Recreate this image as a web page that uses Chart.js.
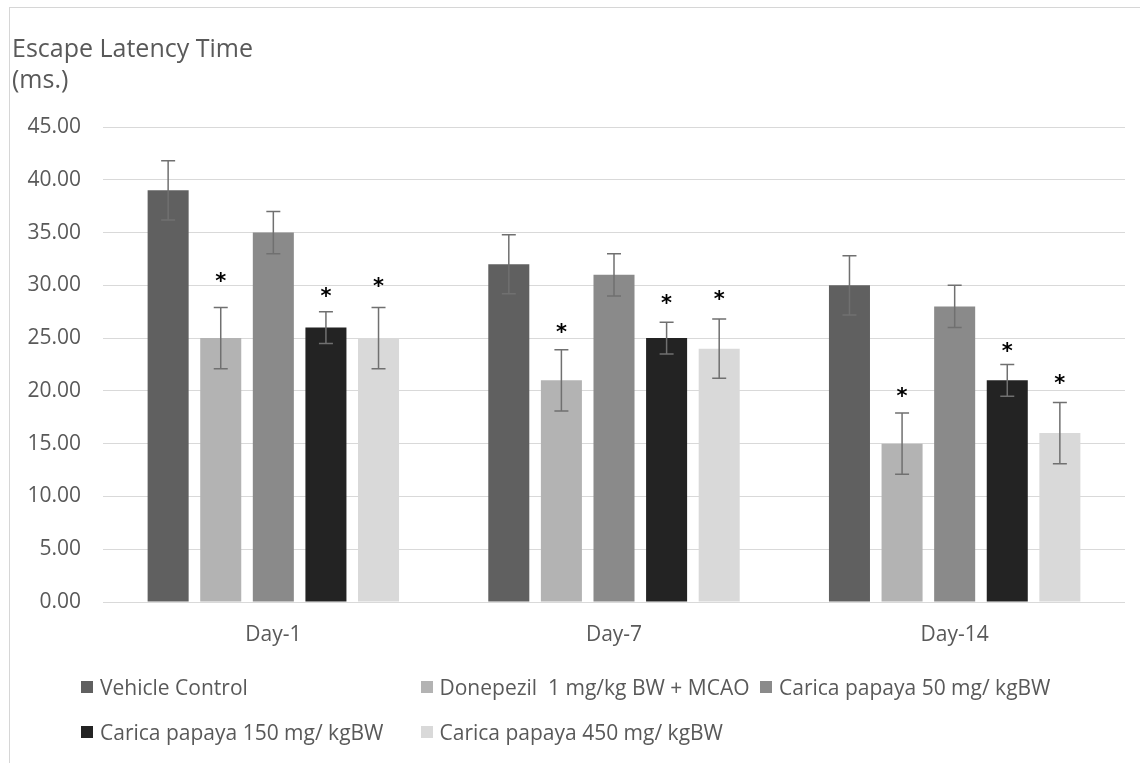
<!DOCTYPE html>
<html>
<head>
<meta charset="utf-8">
<script src="https://cdn.jsdelivr.net/npm/chart.js@4/dist/chart.umd.min.js"></script>
<style>
  body { margin: 0; background: #fff; }
  #wrap { position: relative; width: 1140px; height: 763px; overflow: hidden; font-family: "Open Sans", sans-serif; color: #595959; }
  #frame { position: absolute; left: 9px; top: 7px; width: 1200px; height: 800px; border-top: 1px solid #d6d6d6; border-left: 1px solid #d6d6d6; }
  #chart { position: absolute; left: 0; top: 0; }
  #title { position: absolute; left: 12px; top: 32px; font-size: 25px; line-height: 31px; }
  #legend { position: absolute; left: 81px; top: 664px; display: grid; grid-template-columns: 339.5px 339.5px 339.5px; font-size: 21px; }
  .item { display: flex; align-items: center; height: 45px; white-space: pre; }
  .box { width: 12px; height: 12px; margin-right: 7px; flex: none; }
</style>
</head>
<body>
<div id="wrap">
  <div id="frame"></div>
  <canvas id="chart" width="1140" height="763"></canvas>
  <div id="title">Escape Latency Time<br>(ms.)</div>
  <div id="legend"></div>
</div>
<script>
const days = ['Day-1', 'Day-7', 'Day-14'];
const seriesNames = ['Vehicle Control', 'Donepezil  1 mg/kg BW + MCAO', 'Carica papaya 50 mg/ kgBW', 'Carica papaya 150 mg/ kgBW', 'Carica papaya 450 mg/ kgBW'];
const vehicle = [39, 32, 30];
const donepezil = [25, 21, 15];
const papaya50 = [35, 31, 28];
const papaya150 = [26, 25, 21];
const papaya450 = [25, 24, 16];
// error bar half-lengths
const errVehicle = [2.8, 2.8, 2.8];
const errDonepezil = [2.9, 2.9, 2.9];
const errPapaya50 = [2, 2, 2];
const errPapaya150 = [1.5, 1.5, 1.5];
const errPapaya450 = [2.9, 2.8, 2.9];
// where the significance stars sit (value on the y axis), null = no star
const starVehicle = [null, null, null];
const starDonepezil = [30.8, 26.0, 19.9];
const starPapaya50 = [null, null, null];
const starPapaya150 = [29.4, 28.7, 24.2];
const starPapaya450 = [30.3, 29.1, 21.1];
const yTicks = [0, 5, 10, 15, 20, 25, 30, 35, 40, 45];

const colors = ['#606060', '#b3b3b3', '#8a8a8a', '#232323', '#d9d9d9'];
const values = [vehicle, donepezil, papaya50, papaya150, papaya450];
const errors = [errVehicle, errDonepezil, errPapaya50, errPapaya150, errPapaya450];
const stars = [starVehicle, starDonepezil, starPapaya50, starPapaya150, starPapaya450];

const errorBars = {
  id: 'errorBars',
  afterDatasetsDraw(chart) {
    const ctx = chart.ctx;
    const y = chart.scales.y;
    ctx.save();
    chart.data.datasets.forEach((ds, i) => {
      const meta = chart.getDatasetMeta(i);
      meta.data.forEach((bar, j) => {
        const v = ds.data[j], e = errors[i][j];
        const top = y.getPixelForValue(v + e);
        const bot = y.getPixelForValue(v - e);
        ctx.strokeStyle = '#707070';
        ctx.lineWidth = 1.5;
        ctx.beginPath();
        ctx.moveTo(bar.x, top); ctx.lineTo(bar.x, bot);
        ctx.moveTo(bar.x - 7, top); ctx.lineTo(bar.x + 7, top);
        ctx.moveTo(bar.x - 7, bot); ctx.lineTo(bar.x + 7, bot);
        ctx.stroke();
        const s = stars[i][j];
        if (s != null) {
          ctx.fillStyle = '#000';
          ctx.font = 'bold 21px "DejaVu Sans"';
          ctx.textAlign = 'center';
          ctx.textBaseline = 'alphabetic';
          const m = ctx.measureText('*');
          const sy = y.getPixelForValue(s);
          const off = (m.actualBoundingBoxAscent - m.actualBoundingBoxDescent) / 2;
          ctx.fillText('*', bar.x, sy + off);
        }
      });
    });
    ctx.restore();
  }
};

const chart = new Chart(document.getElementById('chart'), {
  type: 'bar',
  data: {
    labels: days,
    datasets: values.map((d, i) => ({
      label: seriesNames[i],
      data: d,
      backgroundColor: colors[i],
      borderWidth: 0,
      categoryPercentage: 0.772,
      barPercentage: 0.78,
    }))
  },
  options: {
    responsive: false,
    animation: false,
    layout: { padding: { left: 10, right: 15, top: 127, bottom: 101 } },
    scales: {
      y: {
        min: 0,
        max: 45,
        afterFit: (scale) => { scale.width = 93; },
        afterBuildTicks: (scale) => { scale.ticks = yTicks.map(v => ({ value: v })); },
        border: { display: false },
        grid: { color: '#d9d9d9', lineWidth: 1, drawTicks: false },
        ticks: {
          padding: 22,
          color: '#595959',
          font: { family: 'Open Sans', size: 21 },
          callback: (v) => Number(v).toFixed(2),
        },
      },
      x: {
        afterFit: (scale) => { scale.height = 60; },
        border: { display: false },
        grid: { display: false, drawTicks: false },
        ticks: {
          padding: 20,
          color: '#595959',
          font: { family: 'Open Sans', size: 21 },
        },
      },
    },
    plugins: {
      legend: { display: false },
      tooltip: { enabled: false },
    }
  },
  plugins: [errorBars]
});

// legend in the same order as the datasets
const legend = document.getElementById('legend');
chart.data.datasets.forEach((ds) => {
  const item = document.createElement('div');
  item.className = 'item';
  item.innerHTML = '<span class="box" style="background:' + ds.backgroundColor + '"></span><span></span>';
  item.lastChild.textContent = ds.label;
  legend.appendChild(item);
});
</script>
</body>
</html>
